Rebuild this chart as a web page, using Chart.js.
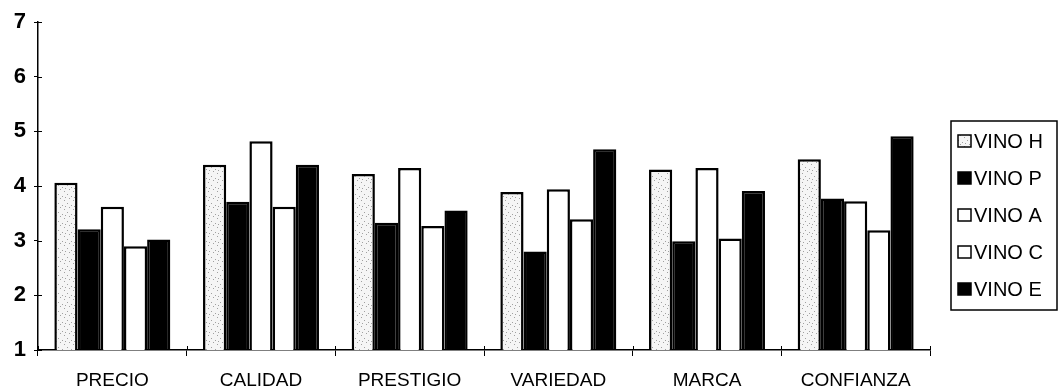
<!DOCTYPE html>
<html>
<head>
<meta charset="utf-8">
<script src="https://cdn.jsdelivr.net/npm/chart.js@4/dist/chart.umd.min.js"></script>
<style>
  html, body { margin: 0; padding: 0; background: #fff; }
  #wrap { position: relative; width: 1059px; height: 389px; }
</style>
</head>
<body>
<div id="wrap"><canvas id="c" width="1059" height="389"></canvas></div>
<script>
const categories = ['PRECIO', 'CALIDAD', 'PRESTIGIO', 'VARIEDAD', 'MARCA', 'CONFIANZA'];
const seriesNames = ['VINO H', 'VINO P', 'VINO A', 'VINO C', 'VINO E'];
const vinoH = [4.06, 4.39, 4.22, 3.89, 4.30, 4.49];
const vinoP = [3.21, 3.71, 3.33, 2.80, 2.99, 3.77];
const vinoA = [3.62, 4.82, 4.33, 3.94, 4.33, 3.72];
const vinoC = [2.90, 3.62, 3.27, 3.39, 3.04, 3.19];
const vinoE = [3.02, 4.39, 3.55, 4.67, 3.91, 4.91];
const yTicks = [1, 2, 3, 4, 5, 6, 7];

function makeStipple() {
  const pc = document.createElement('canvas');
  pc.width = 9; pc.height = 9;
  const p = pc.getContext('2d');
  p.fillStyle = '#f5f5f5';
  p.fillRect(0, 0, 9, 9);
  p.fillStyle = '#a0a0a0';
  [[1, 2], [6, 0], [4, 5], [8, 7], [2, 8]].forEach(([x, y]) => p.fillRect(x, y, 1, 1));
  return document.getElementById('c').getContext('2d').createPattern(pc, 'repeat');
}
const stipple = makeStipple();
const fills = [stipple, '#000000', '#ffffff', '#ffffff', '#000000'];
const values = [vinoH, vinoP, vinoA, vinoC, vinoE];

const FONT = "'Liberation Sans', Arial, sans-serif";
Chart.defaults.font.family = FONT;
Chart.defaults.color = '#000';

const boxLegend = {
  id: 'boxLegend',
  afterDraw(chart) {
    const ctx = chart.ctx;
    const x0 = 951, y0 = 121, w = 106, h = 189;
    ctx.save();
    ctx.strokeStyle = '#000';
    ctx.lineWidth = 1.5;
    ctx.strokeRect(x0, y0, w, h);
    ctx.font = '20px ' + FONT;
    ctx.textBaseline = 'middle';
    chart.data.datasets.forEach((ds, i) => {
      const cy = 141 + i * 37;
      ctx.fillStyle = ds.backgroundColor;
      ctx.fillRect(958, cy - 6, 13, 12);
      ctx.lineWidth = 1.5;
      ctx.strokeStyle = '#000';
      ctx.strokeRect(958, cy - 6, 13, 12);
      ctx.fillStyle = '#000';
      ctx.fillText(ds.label, 974, cy + 1);
    });
    ctx.restore();
  }
};

const crossTicks = {
  id: 'crossTicks',
  afterDraw(chart) {
    const ctx = chart.ctx, a = chart.chartArea;
    const ys = chart.scales.y;
    ctx.save();
    ctx.strokeStyle = '#000';
    ctx.lineWidth = 1;
    ys.ticks.forEach(t => {
      const y = Math.round(ys.getPixelForValue(t.value)) + 0.5;
      ctx.beginPath(); ctx.moveTo(a.left, y); ctx.lineTo(a.left + 4, y); ctx.stroke();
    });
    for (let i = 0; i <= categories.length; i++) {
      const x = Math.round(a.left + (a.right - a.left) * i / categories.length) + 0.5;
      ctx.beginPath(); ctx.moveTo(x, a.bottom - 4); ctx.lineTo(x, a.bottom); ctx.stroke();
    }
    ctx.restore();
  }
};

new Chart(document.getElementById('c'), {
  type: 'bar',
  data: {
    labels: categories,
    datasets: seriesNames.map((name, i) => ({
      label: name,
      data: values[i],
      backgroundColor: fills[i],
      borderColor: '#000',
      borderWidth: 2.5,
      categoryPercentage: 0.78,
      barPercentage: 1.0
    }))
  },
  options: {
    responsive: false,
    animation: false,
    layout: { padding: { top: 22, right: 129, left: 0, bottom: 0 } },
    plugins: {
      legend: { display: false },
      tooltip: { enabled: false }
    },
    scales: {
      x: {
        offset: true,
        grid: { display: true, offset: true, drawOnChartArea: false, color: '#000', tickLength: 6, lineWidth: 1 },
        border: { display: true, color: '#000', width: 1.5 },
        ticks: { font: { size: 19 }, padding: 13, maxRotation: 0, autoSkip: false },
        afterFit(s) { s.height = 39; }
      },
      y: {
        min: 1, max: 7,
        afterBuildTicks(s) { s.ticks = yTicks.map(v => ({ value: v })); },
        grid: { display: true, drawOnChartArea: false, color: '#000', tickLength: 4, lineWidth: 1 },
        border: { display: true, color: '#000', width: 1.5 },
        ticks: { font: { size: 22, weight: 'bold' }, padding: 8 },
        afterFit(s) { s.width = 38; }
      }
    }
  },
  plugins: [boxLegend, crossTicks]
});
</script>
</body>
</html>
